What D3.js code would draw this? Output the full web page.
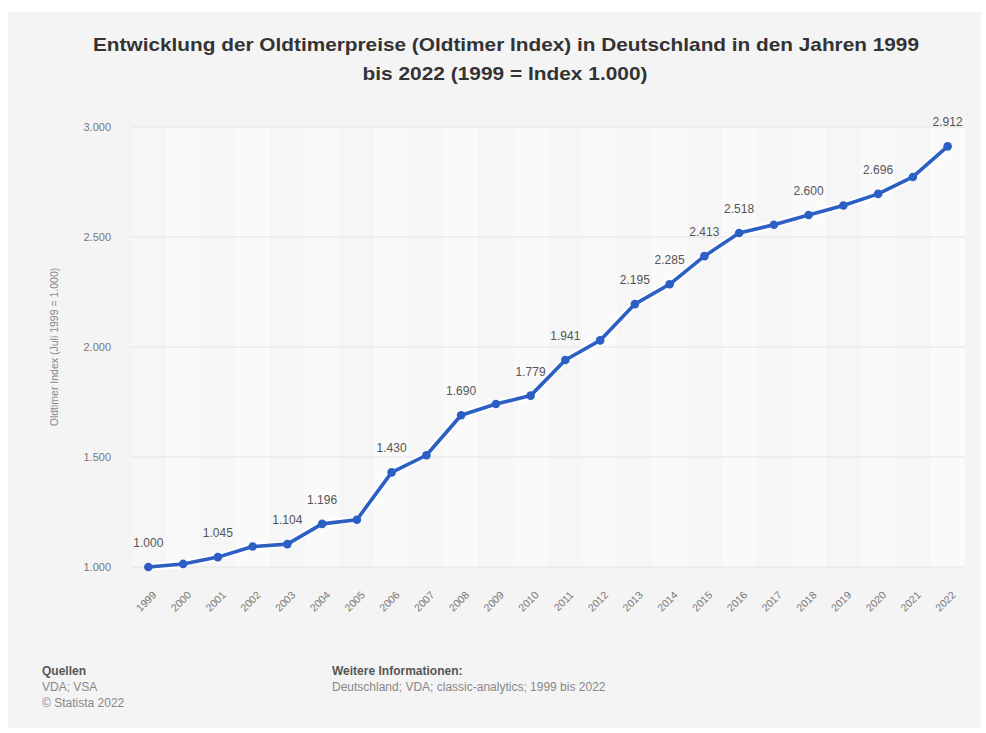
<!DOCTYPE html>
<html>
<head>
<meta charset="utf-8">
<script src="https://cdn.jsdelivr.net/npm/d3@7"></script>
<style>
  body { margin: 0; background: #fff; font-family: "Liberation Sans", Arial, sans-serif; }
</style>
</head>
<body>
<svg id="chart" width="986" height="733"></svg>
<script>
// data
var years = ["1999","2000","2001","2002","2003","2004","2005","2006","2007","2008","2009","2010",
             "2011","2012","2013","2014","2015","2016","2017","2018","2019","2020","2021","2022"]
var values = [1000, 1014, 1045, 1093, 1104, 1196, 1215, 1430, 1508, 1690, 1741, 1779,
              1941, 2030, 2195, 2285, 2413, 2518, 2556, 2600, 2643, 2696, 2773, 2912]
var labeledYears = ["1999","2001","2003","2004","2006","2008","2010","2011","2013","2014","2015","2016","2018","2020","2022"]
var yTicks = [1000, 1500, 2000, 2500, 3000]

var svg = d3.select("#chart")
var de = d3.formatLocale({decimal: ",", thousands: ".", grouping: [3], currency: ["", "€"]})
var fmtDe = de.format(",.0f")

// card background
svg.append("rect").attr("x", 8).attr("y", 12).attr("width", 973).attr("height", 716).attr("fill", "#f4f4f4")

// title
var title = svg.append("text").attr("text-anchor", "middle").attr("font-weight", "bold")
  .attr("font-size", 19).attr("fill", "#333")
title.append("tspan").attr("x", 506).attr("y", 51)
  .attr("textLength", 826).attr("lengthAdjust", "spacingAndGlyphs")
  .text("Entwicklung der Oldtimerpreise (Oldtimer Index) in Deutschland in den Jahren 1999")
title.append("tspan").attr("x", 505).attr("y", 80)
  .attr("textLength", 285).attr("lengthAdjust", "spacingAndGlyphs")
  .text("bis 2022 (1999 = Index 1.000)")

var x = d3.scaleBand().domain(years).range([131, 965])
var y = d3.scaleLinear().domain([1000, 3000]).range([567, 127])

var g = svg.append("g")

// alternating column bands
g.selectAll(".band").data(years).enter().append("rect")
  .attr("class", "band")
  .attr("x", function(d){ return x(d) })
  .attr("y", y(3000))
  .attr("width", x.bandwidth())
  .attr("height", y(1000) - y(3000))
  .attr("fill", function(d, i){ return i % 2 == 0 ? "#f6f6f6" : "#fafafa" })

// horizontal grid
g.selectAll(".grid").data(yTicks).enter().append("line")
  .attr("x1", 131).attr("x2", 965)
  .attr("y1", function(d){ return y(d) }).attr("y2", function(d){ return y(d) })
  .attr("stroke", "#e4e4e4").attr("stroke-width", 1)

// y axis
var yAxis = g.append("g").attr("transform", "translate(114,0)")
  .call(d3.axisLeft(y).tickValues(yTicks).tickSize(0).tickFormat(fmtDe))
yAxis.select(".domain").remove()
yAxis.selectAll("text").attr("font-size", 11).attr("fill", "#777")
  .attr("font-family", "Liberation Sans, Arial, sans-serif")

svg.append("text")
  .attr("transform", "translate(58,347) rotate(-90)")
  .attr("text-anchor", "middle").attr("font-size", 10.5).attr("fill", "#888")
  .text("Oldtimer Index (Juli 1999 = 1.000)")

// x axis
var xAxis = g.append("g").attr("transform", "translate(0,577)")
  .call(d3.axisBottom(x).tickSize(0))
xAxis.select(".domain").remove()
xAxis.selectAll("text")
  .attr("font-size", 10.5).attr("fill", "#777")
  .attr("font-family", "Liberation Sans, Arial, sans-serif")
  .attr("text-anchor", "end")
  .attr("dy", "0.35em")
  .attr("transform", "translate(4,14) rotate(-45)")

// line
var pts = years.map(function(d, i){ return {year: d, value: values[i]} })
var line = d3.line()
  .x(function(d){ return x(d.year) + x.bandwidth()/2 })
  .y(function(d){ return y(d.value) })

g.append("path").datum(pts).attr("d", line)
  .attr("fill", "none").attr("stroke", "#ffffff").attr("stroke-opacity", 0.9)
  .attr("stroke-width", 8).attr("stroke-linejoin", "round")
g.append("path").datum(pts).attr("d", line)
  .attr("fill", "none").attr("stroke", "#2b5fc4").attr("stroke-width", 3.6)
  .attr("stroke-linejoin", "round")

g.selectAll(".dot").data(pts).enter().append("circle")
  .attr("cx", function(d){ return x(d.year) + x.bandwidth()/2 })
  .attr("cy", function(d){ return y(d.value) })
  .attr("r", 4.3)
  .attr("fill", "#2b5fc4")

// value labels
g.selectAll(".lbl").data(pts.filter(function(d){ return labeledYears.indexOf(d.year) >= 0 }))
  .enter().append("text")
  .attr("x", function(d){ return x(d.year) + x.bandwidth()/2 })
  .attr("y", function(d){ return y(d.value) - 20 })
  .attr("text-anchor", "middle")
  .attr("font-size", 12).attr("fill", "#555")
  .text(function(d){ return d3.format(".3f")(d.value/1000) })

// footer
var foot = svg.append("g").attr("font-size", 12)
foot.append("text").attr("x", 42).attr("y", 675).attr("font-weight", "bold").attr("fill", "#555").text("Quellen")
foot.append("text").attr("x", 42).attr("y", 691).attr("fill", "#888").text("VDA; VSA")
foot.append("text").attr("x", 42).attr("y", 707).attr("fill", "#888").text("© Statista 2022")
foot.append("text").attr("x", 332).attr("y", 675).attr("font-weight", "bold").attr("fill", "#555").text("Weitere Informationen:")
foot.append("text").attr("x", 332).attr("y", 691).attr("fill", "#888").text("Deutschland; VDA; classic-analytics; 1999 bis 2022")
</script>
</body>
</html>
